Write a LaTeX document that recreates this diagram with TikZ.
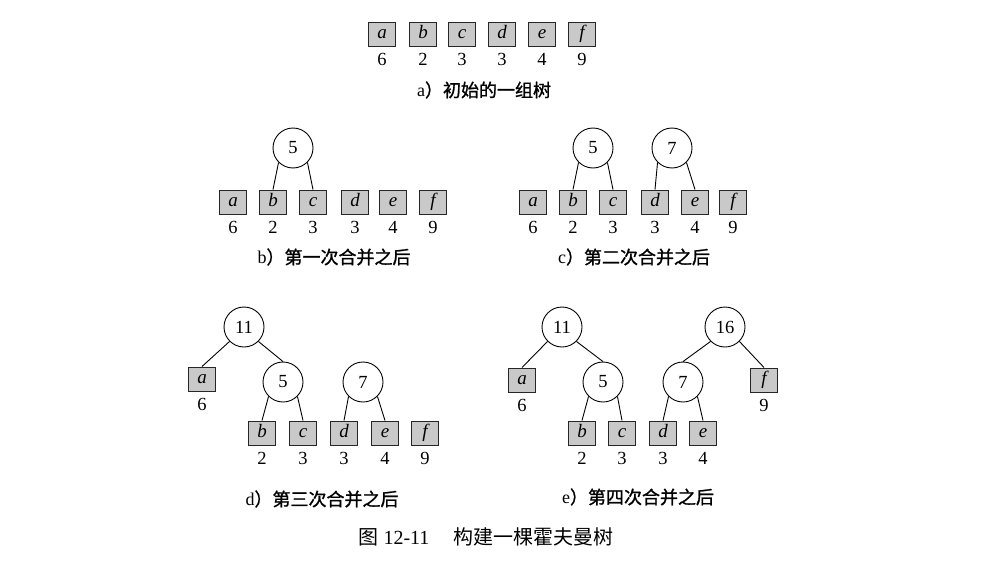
\documentclass[tikz,border=0pt]{standalone}
\usepackage{fontspec}
\setmainfont{Liberation Serif}
\newfontfamily\cjk[AutoFakeBold=1.2]{Noto Sans CJK SC}
\tikzset{
  leaf/.style={draw=black!85, fill=gray!42, line width=1pt, minimum width=27pt, minimum height=24pt, inner sep=0pt, text height=9pt, text depth=0pt, font=\fontsize{19}{19}\selectfont\itshape},
  inode/.style={circle, draw, line width=0.9pt, minimum size=40pt, inner sep=0pt, font=\fontsize{18.5}{18.5}\selectfont},
  wt/.style={inner sep=0pt, font=\fontsize{18.5}{18.5}\selectfont},
  captxt/.style={inner sep=0pt, font=\fontsize{18}{18}\selectfont},
  link/.style={line width=0.9pt}
}
\newcommand\lf[5]{\node[leaf] (#1) at (#2,#3) {#4}; \node[wt] (#1w) at (#2,#3+25) {#5};}
\begin{document}
\begin{tikzpicture}[x=1pt,y=-1pt]
\path[use as bounding box, fill=white] (0,0) rectangle (996,562);
% panel a
\lf{aa}{382}{34}{a}{6}
\lf{ab}{423}{34}{b}{2}
\lf{ac}{462}{34}{c}{3}
\lf{ad}{502}{34}{d}{3}
\lf{ae}{542}{34}{e}{4}
\lf{af}{582}{34}{f}{9}
\node[captxt] (capa) at (484,90) {a{\cjk\bfseries ）初始的一组树}};
% panel b
\lf{ba}{233}{202}{a}{6}
\lf{bb}{273}{202}{b}{2}
\lf{bc}{313}{202}{c}{3}
\lf{bd}{355}{202}{d}{3}
\lf{be}{393}{202}{e}{4}
\lf{bf}{433}{202}{f}{9}
\node[inode] (b5) at (293,148) {5};
\draw[link] (b5.south west) -- (bb.north);
\draw[link] (b5.south east) -- (bc.north);
\node[captxt] (capb) at (334,257) {b{\cjk\bfseries ）第一次合并之后}};
% panel c
\lf{ca}{533}{202}{a}{6}
\lf{cb}{573}{202}{b}{2}
\lf{cc}{613}{202}{c}{3}
\lf{cd}{655}{202}{d}{3}
\lf{ce}{695}{202}{e}{4}
\lf{cf}{733}{202}{f}{9}
\node[inode] (c5) at (593,148) {5};
\node[inode] (c7) at (672,148) {7};
\draw[link] (c5.south west) -- (cb.north);
\draw[link] (c5.south east) -- (cc.north);
\draw[link] (c7.south west) -- (cd.north);
\draw[link] (c7.south east) -- (ce.north);
\node[captxt] (capc) at (634,257) {c{\cjk\bfseries ）第二次合并之后}};
% panel d
\lf{da}{202}{379}{a}{6}
\lf{db}{262}{433}{b}{2}
\lf{dc}{303}{433}{c}{3}
\lf{dd}{344}{433}{d}{3}
\lf{de}{385}{433}{e}{4}
\lf{df}{425}{433}{f}{9}
\node[inode] (d11) at (244,327) {11};
\node[inode] (d5) at (283,382) {5};
\node[inode] (d7) at (363,382) {7};
\draw[link] (d11.south west) -- (da.north);
\draw[link] (d11.south east) -- (d5.north);
\draw[link] (d5.south west) -- (db.north);
\draw[link] (d5.south east) -- (dc.north);
\draw[link] (d7.south west) -- (dd.north);
\draw[link] (d7.south east) -- (de.north);
\node[captxt] (capd) at (322,499) {d{\cjk\bfseries ）第三次合并之后}};
% panel e
\lf{ea}{522}{380}{a}{6}
\lf{ef}{764}{380}{f}{9}
\lf{eb}{582}{433}{b}{2}
\lf{ec}{622}{433}{c}{3}
\lf{ed}{663}{433}{d}{3}
\lf{ee}{703}{433}{e}{4}
\node[inode] (e11) at (562,327) {11};
\node[inode] (e5) at (603,382) {5};
\node[inode] (e7) at (683,382) {7};
\node[inode] (e16) at (725,327) {16};
\draw[link] (e11.south west) -- (ea.north);
\draw[link] (e11.south east) -- (e5.north);
\draw[link] (e5.south west) -- (eb.north);
\draw[link] (e5.south east) -- (ec.north);
\draw[link] (e7.south west) -- (ed.north);
\draw[link] (e7.south east) -- (ee.north);
\draw[link] (e16.south west) -- (e7.north);
\draw[link] (e16.south east) -- (ef.north);
\node[captxt] (cape) at (638,497) {e{\cjk\bfseries ）第四次合并之后}};
% figure caption
\node[inner sep=0pt, font=\fontsize{20}{20}\selectfont] (fig) at (486,537) {{\cjk 图} 12-11\hspace{24pt}{\cjk 构建一棵霍夫曼树}};
\end{tikzpicture}
\end{document}
